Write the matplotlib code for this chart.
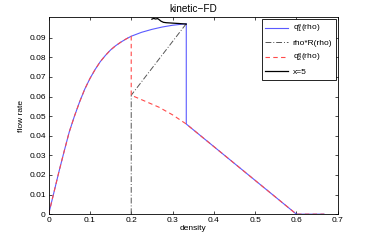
import matplotlib
matplotlib.use('Agg')
import matplotlib.pyplot as plt

plt.rcParams['font.family'] = ['Liberation Sans', 'DejaVu Sans']
plt.rcParams['font.size'] = 6

# equilibrium flux q1 (blue)
rho_q1 = [0, 0.0125, 0.025, 0.0375, 0.05, 0.0625, 0.075, 0.0875, 0.1, 0.1125, 0.125, 0.1375,
          0.15, 0.1625, 0.175, 0.1875, 0.2, 0.225, 0.25, 0.275, 0.3, 0.3333, 0.3333, 0.6, 0.667]
q1 = [0, 0.0108, 0.0217, 0.032, 0.042, 0.050, 0.0573, 0.0638, 0.0692, 0.0738, 0.0778, 0.0810,
      0.0838, 0.0860, 0.0878, 0.0894, 0.0908, 0.0928, 0.0943, 0.0955, 0.0964, 0.0972, 0.0460, 0.0, 0.0]

# second equilibrium flux q2 (red dashed)
rho_q2 = [0, 0.0125, 0.025, 0.0375, 0.05, 0.0625, 0.075, 0.0875, 0.1, 0.1125, 0.125, 0.1375,
          0.15, 0.1625, 0.175, 0.1875, 0.2, 0.2, 0.233, 0.267, 0.3, 0.3333, 0.6, 0.667]
q2 = [0, 0.0108, 0.0217, 0.032, 0.042, 0.050, 0.0573, 0.0638, 0.0692, 0.0738, 0.0778, 0.0810,
      0.0838, 0.0860, 0.0878, 0.0894, 0.0908, 0.0607, 0.0577, 0.0546, 0.0507, 0.0460, 0.0, 0.0]

# rho*R(rho) (black dash-dot)
rho_r = [0.2, 0.2, 0.3333]
qr = [0.0, 0.0607, 0.0972]

# solution at x=5
rho_x5 = [0.250, 0.254, 0.259, 0.264, 0.268, 0.272, 0.278, 0.285, 0.300, 0.315, 0.3333]
q_x5 = [0.0995, 0.0999, 0.0996, 0.0998, 0.0992, 0.0985, 0.0979, 0.0977, 0.0975, 0.0973, 0.0970]

fig = plt.figure(figsize=(3.74, 2.42), dpi=100)
ax = fig.add_axes([0.13, 0.115, 0.773, 0.813])

ax.plot(rho_q1, q1, color='#5a5aff', lw=0.8, label=r'$\mathregular{q_1^e}$(rho)')
ax.plot(rho_r, qr, color='#555555', lw=0.7, ls=(0, (6, 2, 1, 2)), label='rho*R(rho)')
ax.plot(rho_q2, q2, color='#ff4a4a', lw=0.8, ls=(0, (4, 3)), label=r'$\mathregular{q_2^e}$(rho)')
ax.plot(rho_x5, q_x5, color='black', lw=0.9, label='x=5')

ax.set_xlim(0, 0.7)
ax.set_ylim(0, 0.1004)
ax.set_xticks([0, 0.1, 0.2, 0.3, 0.4, 0.5, 0.6, 0.7])
ax.set_xticklabels(['0', '0.1', '0.2', '0.3', '0.4', '0.5', '0.6', '0.7'])
ax.set_yticks([0, 0.01, 0.02, 0.03, 0.04, 0.05, 0.06, 0.07, 0.08, 0.09])
ax.set_yticklabels(['0', '0.01', '0.02', '0.03', '0.04', '0.05', '0.06', '0.07', '0.08', '0.09'])
ax.tick_params(direction='in', top=True, right=True, length=2.5, width=0.5, pad=2)
for s in ax.spines.values():
    s.set_linewidth(0.6)

ax.set_xlabel('density', labelpad=1)
ax.set_ylabel('flow rate', labelpad=3)
ax.set_title('kinetic\u2212FD', pad=4)

leg = ax.legend(loc='upper right', fancybox=False, edgecolor='black', framealpha=1,
                borderaxespad=0.2, handlelength=2.7, labelspacing=0.55, borderpad=0.45,
                handletextpad=0.6)
leg.get_frame().set_linewidth(0.6)

plt.savefig('out.png', dpi=100)
